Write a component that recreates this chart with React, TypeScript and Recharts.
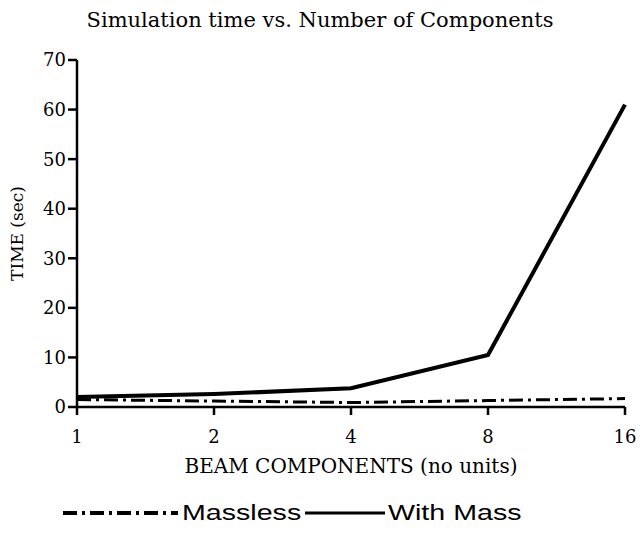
import React from "react"
import { Line, LineChart, XAxis, YAxis, Label } from "recharts"

const components = ["1", "2", "4", "8", "16"]
const masslessTime = [1.5, 1.2, 0.9, 1.3, 1.7]
const withMassTime = [2.0, 2.6, 3.8, 10.5, 61]
const timeTicks = [0, 10, 20, 30, 40, 50, 60, 70]

const data = components.map((c, i) => ({
  name: c,
  massless: masslessTime[i],
  withMass: withMassTime[i],
}))

const serif = "'DejaVu Serif', serif"
const sans = "'Liberation Sans', Arial, sans-serif"
const dashDot = "14 5 3 5"

const legendText: React.CSSProperties = {
  position: "absolute",
  top: 0,
  fontFamily: sans,
  fontSize: 22,
  lineHeight: "26px",
  color: "#000",
  whiteSpace: "nowrap",
  transform: "scaleX(1.3)",
  transformOrigin: "left center",
}

export default function App() {
  return (
    <div style={{ position: "absolute", left: 0, top: 0, width: 640, height: 536, background: "#fff" }}>
      <div
        style={{
          position: "absolute",
          top: 10,
          left: 0,
          width: 640,
          textAlign: "center",
          fontFamily: serif,
          fontSize: 21,
          lineHeight: "21px",
          color: "#000",
        }}
      >
        Simulation time vs. Number of Components
      </div>
      <LineChart width={640} height={536} data={data} margin={{ top: 60, right: 15, bottom: 99, left: 15 }}>
        <XAxis
          dataKey="name"
          type="category"
          stroke="#000"
          strokeWidth={2.5}
          tickSize={8}
          tickMargin={15}
          height={30}
          tick={{ fontFamily: serif, fontSize: 18, fill: "#000" }}
        >
          <Label
            value="BEAM COMPONENTS (no units)"
            position="bottom"
            offset={22}
            style={{ fontFamily: serif, fontSize: 20, fill: "#000" }}
          />
        </XAxis>
        <YAxis
          domain={[0, 70]}
          ticks={timeTicks}
          interval={0}
          stroke="#000"
          strokeWidth={2.5}
          tickSize={9}
          tickMargin={2}
          width={62}
          tick={{ fontFamily: serif, fontSize: 18, fill: "#000" }}
        >
          <Label
            value="TIME (sec)"
            angle={-90}
            position="insideLeft"
            offset={2}
            style={{ fontFamily: serif, fontSize: 17, fill: "#000", textAnchor: "middle" }}
          />
        </YAxis>
        <Line
          dataKey="massless"
          stroke="#000"
          strokeWidth={3}
          strokeDasharray={dashDot}
          dot={false}
          isAnimationActive={false}
        />
        <Line dataKey="withMass" stroke="#000" strokeWidth={4} dot={false} isAnimationActive={false} />
      </LineChart>
      <div style={{ position: "absolute", top: 500, left: 0, width: 640, height: 26 }}>
        <svg width={115} height={8} style={{ position: "absolute", left: 63, top: 9 }}>
          <line x1={0} y1={4} x2={115} y2={4} stroke="#000" strokeWidth={4} strokeDasharray={dashDot} />
        </svg>
        <span style={{ ...legendText, left: 182 }}>Massless</span>
        <svg width={80} height={8} style={{ position: "absolute", left: 305, top: 9 }}>
          <line x1={0} y1={4} x2={80} y2={4} stroke="#000" strokeWidth={3} />
        </svg>
        <span style={{ ...legendText, left: 388 }}>With Mass</span>
      </div>
    </div>
  )
}
